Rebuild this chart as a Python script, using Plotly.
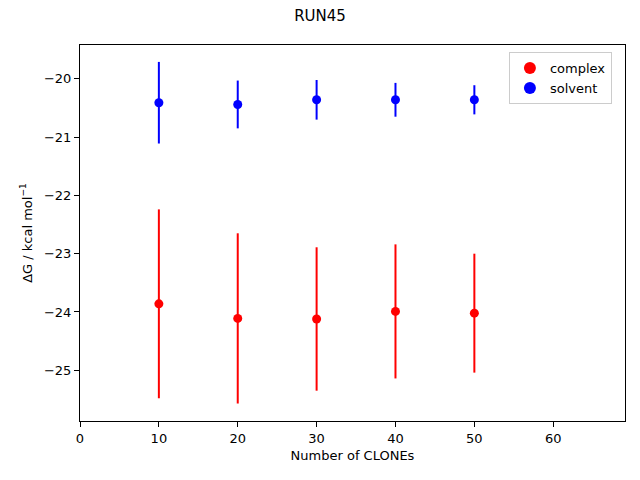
import plotly.graph_objects as go

clones = [10, 20, 30, 40, 50]
complex_dg = [-23.86, -24.11, -24.12, -23.99, -24.02]
complex_err = [1.62, 1.46, 1.23, 1.15, 1.02]
solvent_dg = [-20.41, -20.44, -20.36, -20.36, -20.36]
solvent_err = [0.70, 0.41, 0.34, 0.29, 0.25]
x_ticks = [0, 10, 20, 30, 40, 50, 60]
y_ticks = [-25, -24, -23, -22, -21, -20]

font = "DejaVu Sans"
fig = go.Figure()
fig.add_trace(go.Scatter(
    x=clones, y=complex_dg, mode="markers", name="complex",
    marker=dict(color="red", size=9),
    error_y=dict(type="data", array=complex_err, color="red", thickness=2, width=0),
))
fig.add_trace(go.Scatter(
    x=clones, y=solvent_dg, mode="markers", name="solvent",
    marker=dict(color="blue", size=9),
    error_y=dict(type="data", array=solvent_err, color="blue", thickness=2, width=0),
))

axis_common = dict(
    showline=True, linecolor="black", linewidth=1, mirror=True, automargin=False,
    ticks="outside", ticklen=5, tickcolor="black", showgrid=False, zeroline=False,
    tickfont=dict(family=font, size=13, color="black"),
)
fig.update_layout(
    width=640, height=480,
    margin=dict(l=80, r=15, t=45, b=59, autoexpand=False),
    paper_bgcolor="white", plot_bgcolor="white",
    title=dict(text="RUN45", x=0.5, xanchor="center", y=0.967, yanchor="middle",
               xref="container", yref="container", automargin=False,
               font=dict(family=font, size=15, color="black")),
    xaxis=dict(range=[0, 69.1], tickvals=x_ticks,
               title=dict(text="Number of CLONEs", font=dict(family=font, size=13, color="black"), standoff=6),
               **axis_common),
    yaxis=dict(range=[-25.87, -19.42], tickvals=y_ticks,
               title=dict(text="ΔG / kcal mol<sup>−1</sup>", font=dict(family=font, size=13, color="black"), standoff=8),
               **axis_common),
    legend=dict(x=0.787, y=0.981, xanchor="left", yanchor="top",
                bgcolor="rgba(255,255,255,0.8)", bordercolor="#cccccc", borderwidth=1,
                font=dict(family=font, size=13, color="black"), itemsizing="constant",
                entrywidth=68, entrywidthmode="pixels",
                tracegroupgap=0),
    showlegend=True,
)
fig.write_html("out.html", config={"displayModeBar": False},
               post_script="document.body.style.margin='0';")
